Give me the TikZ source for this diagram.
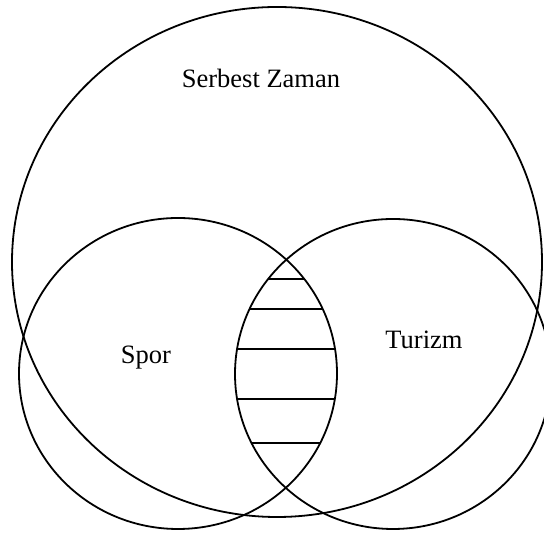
\documentclass[tikz,border=0pt]{standalone}
\usepackage{fontspec}
\setmainfont{Liberation Serif}
\begin{document}
\begin{tikzpicture}[x=1pt,y=1pt,
  ring/.style={draw=black,line width=1.8pt},
  hatch/.style={draw=black,line width=1.1pt},
  lbl/.style={font=\fontsize{26.5}{30}\selectfont,anchor=base,inner sep=0pt}]
\useasboundingbox (0,0) rectangle (544,534);
% coordinates: y_tikz = 534 - y_image
\coordinate (cbig) at (277,272);
\coordinate (cleft) at (178,160.5);
\coordinate (cright) at (393,160);
\draw[ring] (cbig) ellipse [x radius=265, y radius=255];
\draw[ring] (cleft) ellipse [x radius=159, y radius=155.5];
\draw[ring] (cright) ellipse [x radius=158, y radius=155];
\begin{scope}
  \clip (cleft) ellipse [x radius=159, y radius=155.5];
  \clip (cright) ellipse [x radius=158, y radius=155];
  \foreach \yy in {255,225,185,135,91} {
    \draw[hatch] (200,\yy) -- (360,\yy);
  }
\end{scope}
\node[lbl] (sz) at (261,446) {Serbest Zaman};
\node[lbl] (sp) at (146,170) {Spor};
\node[lbl] (tu) at (424,185) {Turizm};
\end{tikzpicture}
\end{document}
